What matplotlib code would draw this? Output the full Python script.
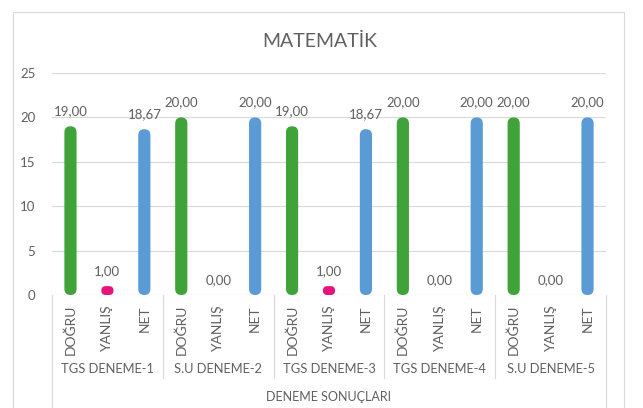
import matplotlib
matplotlib.use("Agg")
import matplotlib.pyplot as plt
from matplotlib.patches import FancyBboxPatch, Rectangle
import matplotlib.transforms as mtransforms

# ---- data ----
groups = ["TGS DENEME-1", "S.U DENEME-2", "TGS DENEME-3", "TGS DENEME-4", "S.U DENEME-5"]
subcats = ["DOĞRU", "YANLIŞ", "NET"]
dogru = [19.00, 20.00, 19.00, 20.00, 20.00]
yanlis = [1.00, 0.00, 1.00, 0.00, 0.00]
net = [18.67, 20.00, 18.67, 20.00, 20.00]
title = "MATEMATİK"
axis_title = "DENEME SONUÇLARI"
yticks = [0, 5, 10, 15, 20, 25]

colors = {"DOĞRU": "#3FA33A", "YANLIŞ": "#E6137A", "NET": "#5B9BD5"}
txt = "#606060"
grid = "#D9D9D9"

plt.rcParams['font.family'] = ['Lato', 'DejaVu Sans']

W, H = 643, 408
fig = plt.figure(figsize=(W / 100, H / 100), dpi=100)

# chart frame
fig.patches.append(Rectangle((13 / W, -0.05), (624 - 13) / W, (H - 12) / H + 0.05,
                             transform=fig.transFigure, fill=False,
                             edgecolor=grid, linewidth=0.8))

ax_l, ax_r, ax_b, ax_t = 52, 606, 295, 73
ax = fig.add_axes([ax_l / W, (H - ax_b) / H, (ax_r - ax_l) / W, (ax_b - ax_t) / H])
ax.set_xlim(-0.5, 14.5)
ax.set_ylim(0, 25)
for s in ax.spines.values():
    s.set_visible(False)
ax.set_yticks(yticks)
ax.set_yticklabels([str(t) for t in yticks], color=txt, fontsize=9.5)
ax.tick_params(axis='y', length=0, pad=12)
ax.set_xticks([])
for t in yticks[1:]:
    ax.axhline(t, color=grid, lw=0.8, zorder=0)
ax.axhline(0, color=grid, lw=0.8, zorder=1)

px_x = (ax_r - ax_l) / 15.0
px_y = (ax_b - ax_t) / 25.0
aspect = px_x / px_y
bw = 0.33

series = [dogru, yanlis, net]
for gi, g in enumerate(groups):
    for si, sc in enumerate(subcats):
        x = gi * 3 + si
        v = series[si][gi]
        if v > 0:
            r = min(bw / 2, v / aspect / 2)
            p = FancyBboxPatch((x - bw / 2, 0), bw, v,
                               boxstyle=f"round,pad=0,rounding_size={r}",
                               mutation_aspect=aspect,
                               facecolor=colors[sc], edgecolor='none', zorder=3)
            ax.add_patch(p)
        ax.annotate(f"{v:.2f}".replace(".", ","), (x, v), xytext=(0, 11),
                    textcoords='offset points', ha='center', va='center',
                    color=txt, fontsize=9.5, zorder=4)

trans = mtransforms.blended_transform_factory(ax.transData, ax.transAxes)
def yf(py):
    return (ax_b - py) / (ax_b - ax_t)

# category axis lines
ax.plot([-0.5, -0.5], [0, yf(420)], transform=trans, color=grid, lw=0.8, clip_on=False)
ax.plot([14.5, 14.5], [0, yf(420)], transform=trans, color=grid, lw=0.8, clip_on=False)
for gi in range(1, len(groups)):
    xb = gi * 3 - 0.5
    ax.plot([xb, xb], [0, yf(378)], transform=trans, color=grid, lw=0.8, clip_on=False)

for gi, g in enumerate(groups):
    for si, sc in enumerate(subcats):
        x = gi * 3 + si
        ax.text(x, yf(305), sc, transform=trans, rotation=90, ha='center', va='top',
                color=txt, fontsize=10)
    ax.text(gi * 3 + 1, yf(369), g, transform=trans, ha='center', va='center',
            color=txt, fontsize=9.3)
ax.text(7, yf(397), axis_title, transform=trans, ha='center', va='center',
        color=txt, fontsize=9)

fig.text(320 / W, (H - 41) / H, title, ha='center', va='center', color=txt, fontsize=14)

fig.savefig("out.png", dpi=100)
